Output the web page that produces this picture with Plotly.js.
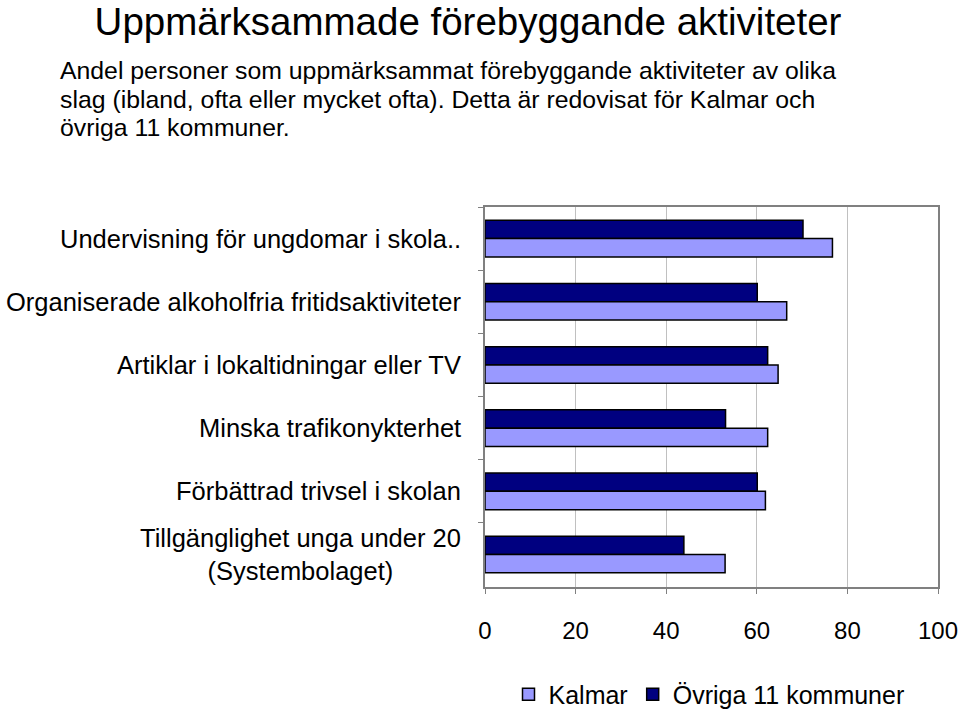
<!DOCTYPE html>
<html>
<head>
<meta charset="utf-8">
<script src="https://cdn.plot.ly/plotly-3.0.1.min.js"></script>
<style>body{margin:0;padding:0;background:#fff}#chart{width:960px;height:710px}</style>
</head>
<body>
<div id="chart"></div>
<script>
const categories = [
  "Undervisning för ungdomar i skola..",
  "Organiserade alkoholfria fritidsaktiviteter",
  "Artiklar i lokaltidningar eller TV",
  "Minska trafikonykterhet",
  "Förbättrad trivsel i skolan",
  "Tillgänglighet unga under 20<br>(Systembolaget)"
];
const ovriga = [70.2, 60.1, 62.4, 53.1, 60.1, 43.9];
const kalmar = [76.7, 66.6, 64.7, 62.4, 61.9, 53.0];
const xTicks = [0, 20, 40, 60, 80, 100];
const subtitleLines = [
  "Andel personer som uppmärksammat förebyggande aktiviteter av olika",
  "slag (ibland, ofta eller mycket ofta). Detta är redovisat för Kalmar och",
  "övriga 11 kommuner."
];

const fontFam = "Liberation Sans, Arial, sans-serif";

const traces = [
  {type: "bar", orientation: "h", name: "Övriga 11 kommuner", y: categories, x: ovriga,
   marker: {color: "#000080", line: {color: "#000000", width: 1.5}}, hoverinfo: "x"},
  {type: "bar", orientation: "h", name: "Kalmar", y: categories, x: kalmar,
   marker: {color: "#9999FF", line: {color: "#000000", width: 1.5}}, hoverinfo: "x"}
];

const annotations = categories.map(c => ({
  xref: "paper", yref: "y", x: -0.048, y: c, text: c,
  xanchor: "right", yanchor: "middle", align: "center", showarrow: false,
  font: {family: fontFam, size: 25.5, color: "#000"}
}));
const subY = [70, 99, 128];
subtitleLines.forEach((t, i) => {
  annotations.push({
    xref: "paper", yref: "paper", x: (58 - 485) / 453, y: (587 - subY[i]) / 380,
    xanchor: "left", yanchor: "middle", align: "left", showarrow: false,
    text: t, font: {family: fontFam, size: 24.8, color: "#000"}
  });
});

const layout = {
  width: 960, height: 710,
  margin: {l: 485, r: 22, t: 207, b: 123},
  paper_bgcolor: "#fff", plot_bgcolor: "#fff",
  title: {text: "Uppmärksammade förebyggande aktiviteter", xref: "container", yref: "container",
          x: 468 / 960, xanchor: "center", y: 1 - 22 / 710, yanchor: "middle",
          font: {family: fontFam, size: 38.5, color: "#000"}},
  barmode: "group", bargap: 0.42, bargroupgap: 0,
  xaxis: {range: [0, 100], tickvals: xTicks, ticktext: xTicks.map(String),
          showgrid: true, gridcolor: "#c0c0c0", gridwidth: 1,
          showline: true, linecolor: "#808080", linewidth: 2, mirror: true,
          ticks: "outside", ticklen: 5, tickcolor: "#808080", ticklabelstandoff: 16,
          tickfont: {family: fontFam, size: 24, color: "#000"}, zeroline: false, fixedrange: true},
  yaxis: {type: "category", autorange: "reversed", showticklabels: false,
          showline: true, linecolor: "#808080", linewidth: 2, mirror: true,
          ticks: "outside", tickson: "boundaries", ticklen: 5, tickcolor: "#808080",
          showgrid: false, zeroline: false, fixedrange: true},
  showlegend: true,
  legend: {orientation: "h", traceorder: "reversed", x: 709 / 960, xref: "container", xanchor: "center",
           y: 0.022, yref: "container", yanchor: "middle",
           font: {family: fontFam, size: 25, color: "#000"}, itemwidth: 30},
  annotations: annotations
};

Plotly.newPlot("chart", traces, layout, {displayModeBar: false, staticPlot: true});
</script>
</body>
</html>
